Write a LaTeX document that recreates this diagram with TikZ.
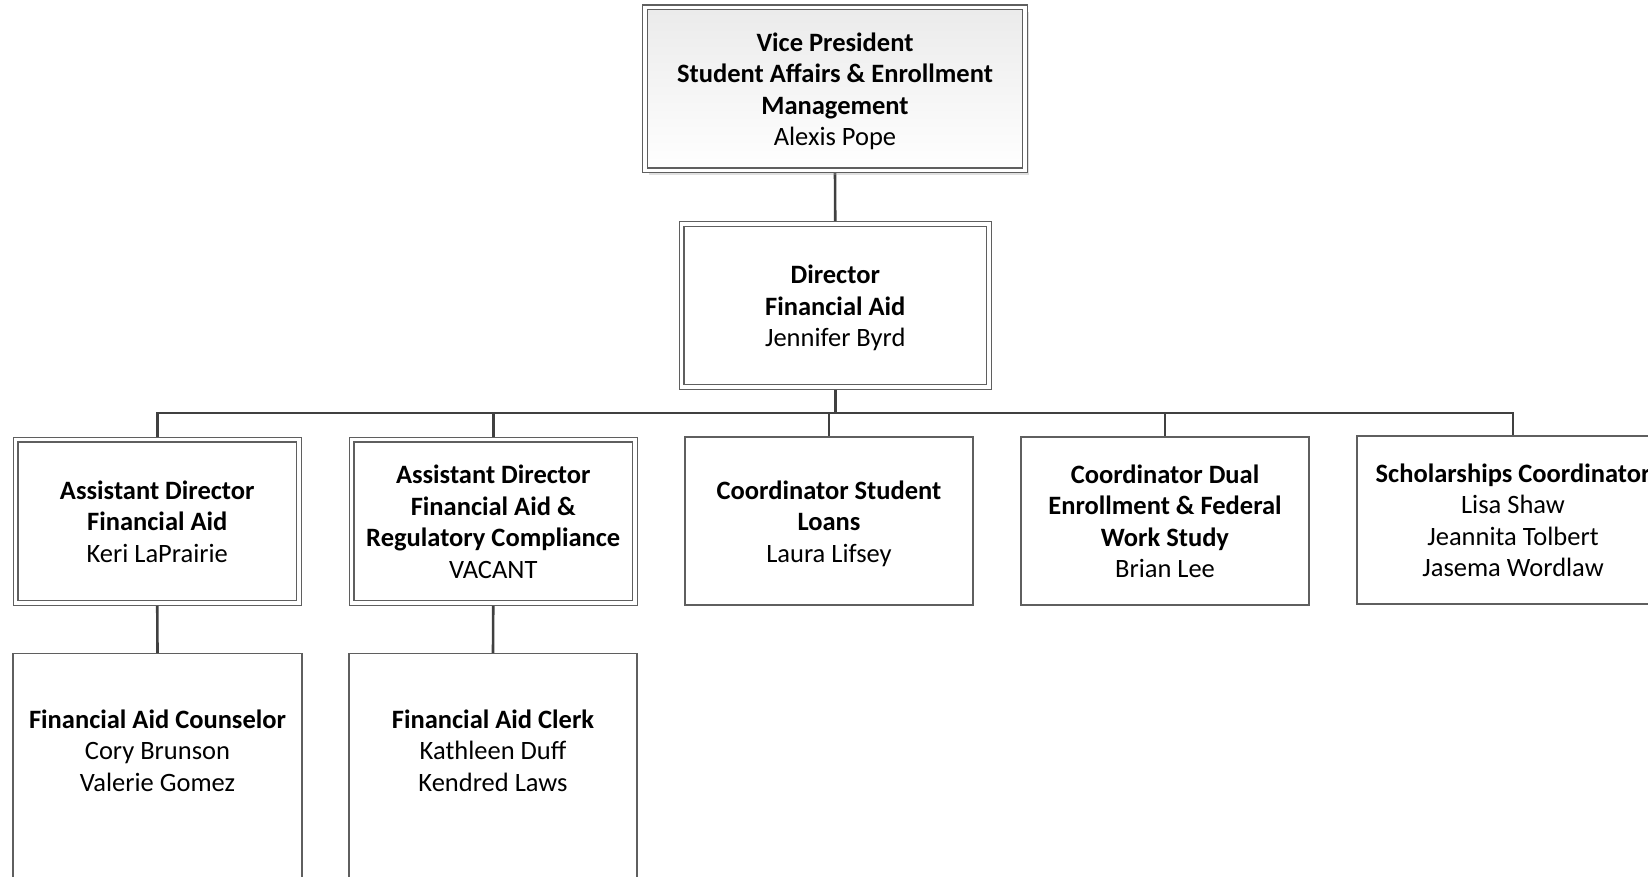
\documentclass[tikz,border=0pt]{standalone}
\usepackage{fontspec}
\setmainfont{Carlito}
\usetikzlibrary{backgrounds,shadows}
\definecolor{boxline}{HTML}{5F5F5F}
\definecolor{conncol}{HTML}{404040}
\newcommand\tstr{\rule{0pt}{27pt}}
\newcommand\bstr{\rule[-8pt]{0pt}{8pt}}
\tikzset{
  base/.style={rectangle, inner sep=0pt, align=center, font=\fontsize{26.5}{31.5}\selectfont, text=black},
  dbox/.style={base, draw=boxline, line width=1.2pt, double=white, double distance=3.6pt, fill=white},
  sbox/.style={base, draw=boxline, line width=1.2pt, fill=white},
  vpbox/.style={base, draw=boxline, line width=1.2pt, double=white, double distance=3.6pt,
     top color=gray!16, bottom color=white,
     drop shadow={shadow xshift=4pt, shadow yshift=-5pt, opacity=0.35, fill=gray!70}},
  txt/.style={base},
  link/.style={draw=conncol, line width=2.6pt},
}
\begin{document}
\begin{tikzpicture}[x=1pt,y=-1pt]
\useasboundingbox (0,0) rectangle (1648,877);

\node[vpbox, minimum width=380pt, minimum height=163pt] (vp) at (835,89)
  {\tstr\textbf{Vice President}\\\textbf{Student Affairs \& Enrollment}\\\textbf{Management}\\Alexis Pope\bstr};

\node[dbox, minimum width=307.5pt, minimum height=163pt] (dir) at (835.25,305.5)
  {\tstr\textbf{Director}\\\textbf{Financial Aid}\\Jennifer Byrd\bstr};

\node[dbox, minimum width=283.5pt, minimum height=163.5pt] (ad1) at (157.25,521.25)
  {\tstr\textbf{Assistant Director}\\\textbf{Financial Aid}\\Keri LaPrairie\bstr};

\node[dbox, minimum width=283.5pt, minimum height=163.5pt] (ad2) at (493.25,521.25)
  {\tstr\textbf{Assistant Director}\\\textbf{Financial Aid \&}\\\textbf{Regulatory Compliance}\\VACANT\bstr};

\node[sbox, minimum width=288pt, minimum height=168pt] (csl) at (829,521)
  {\tstr\textbf{Coordinator Student}\\\textbf{Loans}\\Laura Lifsey\bstr};

\node[sbox, minimum width=288pt, minimum height=168pt] (cde) at (1165,521)
  {\tstr\textbf{Coordinator Dual}\\\textbf{Enrollment \& Federal}\\\textbf{Work Study}\\Brian Lee\bstr};

\node[sbox, minimum width=312pt, minimum height=168pt] (sch) at (1513,520)
  {\tstr\textbf{Scholarships Coordinator}\\Lisa Shaw\\Jeannita Tolbert\\Jasema Wordlaw\bstr};

\node[sbox, anchor=north, minimum width=289pt, minimum height=260pt] (fac) at (157.5,653) {};
\node[txt] (factxt) at (157.5,750)
  {\tstr\textbf{Financial Aid Counselor}\\Cory Brunson\\Valerie Gomez\bstr};

\node[sbox, anchor=north, minimum width=288pt, minimum height=260pt] (fcl) at (493,653) {};
\node[txt] (fcltxt) at (493,750)
  {\tstr\textbf{Financial Aid Clerk}\\Kathleen Duff\\Kendred Laws\bstr};

\coordinate (bus) at (835,413);

\begin{scope}[on background layer]
  \draw[link] (vp.south) -- (dir.north);
  \draw[link] (dir.south) -- (dir.south |- bus);
  \draw[link] (ad1.north) -- (ad1.north |- bus) -| (sch.north);
  \draw[link] (ad2.north) -- (ad2.north |- bus);
  \draw[link] (csl.north) -- (csl.north |- bus);
  \draw[link] (cde.north) -- (cde.north |- bus);
  \draw[link] (ad1.south) -- (fac.north);
  \draw[link] (ad2.south) -- (fcl.north);
\end{scope}
\end{tikzpicture}
\end{document}
